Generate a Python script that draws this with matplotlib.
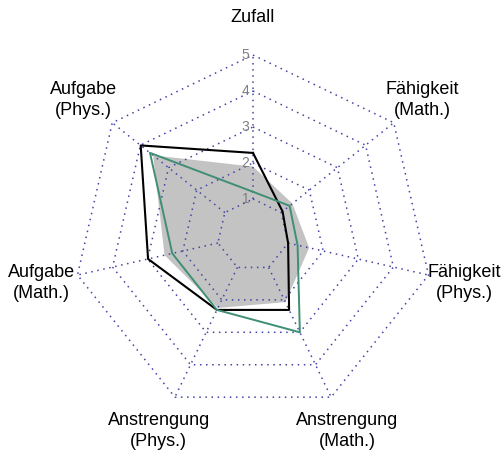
"""Radar chart: attribution profiles (Zufall, Fähigkeit, Anstrengung, Aufgabe)."""

import matplotlib

matplotlib.use("Agg")

import matplotlib.pyplot as plt  # noqa: E402
import numpy as np  # noqa: E402

plt.rcParams["font.family"] = ["Liberation Sans", "DejaVu Sans"]

AXES_LABELS = [
    "Zufall",
    "Fähigkeit\n(Math.)",
    "Fähigkeit\n(Phys.)",
    "Anstrengung\n(Math.)",
    "Anstrengung\n(Phys.)",
    "Aufgabe\n(Math.)",
    "Aufgabe\n(Phys.)",
]
GRAY_VALUES = [1.9, 1.4, 1.6, 2.07, 2.25, 2.52, 3.55]
GREEN_VALUES = [1.2, 1.3, 1.27, 3.0, 2.31, 2.3, 3.66]
BLACK_VALUES = [2.28, 1.05, 1.0, 2.31, 2.31, 2.99, 3.99]
TICK_LEVELS = [1, 2, 3, 4, 5]

GRID_COLOR = "#4343a6"
GREEN = "#3e8f74"
FILL = "#c3c3c3"


def _xy(values):
    n = len(AXES_LABELS)
    angles = np.pi / 2 - 2 * np.pi * np.arange(n) / n
    v = np.asarray(values, dtype=float)
    x = v * np.cos(angles)
    y = v * np.sin(angles)
    return np.append(x, x[0]), np.append(y, y[0])


def main() -> None:
    fig = plt.figure(figsize=(5.03, 4.54), dpi=100)
    ax = fig.add_axes([0, 0, 1, 1])
    scale = 36.0
    ax.set_xlim(-253 / scale, (503 - 253) / scale)
    ax.set_ylim(-(454 - 235) / scale, 235 / scale)
    ax.set_aspect("equal")
    ax.axis("off")

    n = len(AXES_LABELS)
    dots = (0, (1, 3.0))

    # grid heptagons
    for level in TICK_LEVELS:
        gx, gy = _xy([level] * n)
        ax.plot(gx, gy, color=GRID_COLOR, linestyle=dots, linewidth=1.1,
                zorder=3)
    # spokes from the innermost ring outward
    ix, iy = _xy([TICK_LEVELS[0]] * n)
    ox, oy = _xy([TICK_LEVELS[-1]] * n)
    for k in range(n):
        ax.plot([ix[k], ox[k]], [iy[k], oy[k]], color=GRID_COLOR,
                linestyle=dots, linewidth=1.1, zorder=3)

    gx, gy = _xy(GRAY_VALUES)
    ax.fill(gx, gy, color=FILL, linewidth=0, zorder=1)
    bx, by = _xy(BLACK_VALUES)
    ax.plot(bx, by, color="black", linewidth=1.5, zorder=4)
    cx, cy = _xy(GREEN_VALUES)
    ax.plot(cx, cy, color=GREEN, linewidth=1.4, zorder=5)

    for level in TICK_LEVELS:
        ax.text(-0.1, level, str(level), ha="right", va="center",
                fontsize=10, color="#7f7f7f", zorder=6)

    lx, ly = _xy([6.03] * n)
    for k, label in enumerate(AXES_LABELS):
        ax.text(lx[k], ly[k], label, ha="center", va="center", fontsize=13,
                linespacing=1.3, color="black")

    fig.savefig("out.png", dpi=100, facecolor="white")
    plt.close(fig)


if __name__ == "__main__":
    main()
